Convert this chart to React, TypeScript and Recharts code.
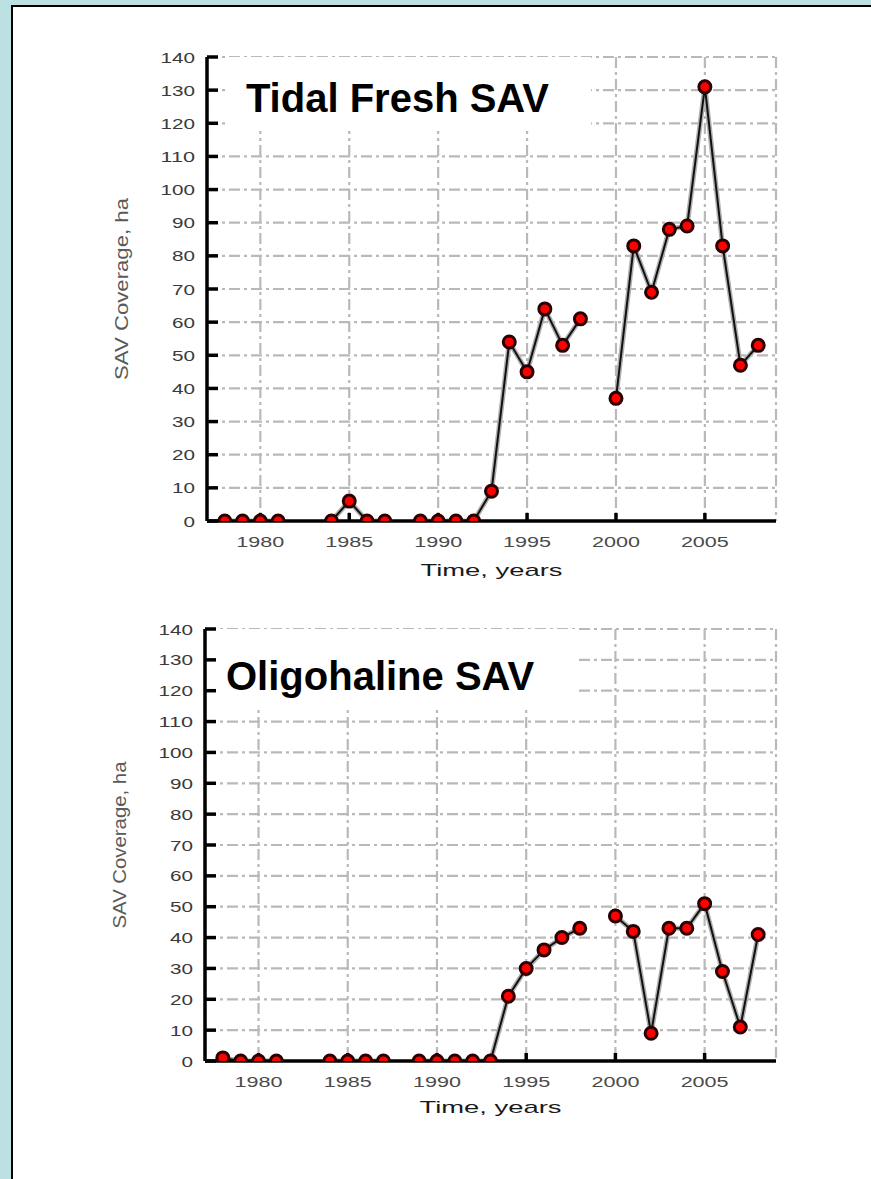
import {
  CartesianGrid,
  Label,
  Line,
  LineChart,
  ReferenceArea,
  XAxis,
  YAxis,
} from "recharts";

const years = [
  1978, 1979, 1980, 1981, 1982, 1983, 1984, 1985, 1986, 1987, 1988, 1989, 1990,
  1991, 1992, 1993, 1994, 1995, 1996, 1997, 1998, 1999, 2000, 2001, 2002, 2003,
  2004, 2005, 2006, 2007, 2008,
];

// null = no survey that year (line breaks there)
const tidalFresh = [
  0, 0, 0, 0, null, null, 0, 6, 0, 0, null, 0, 0, 0, 0, 9, 54, 45, 64, 53, 61,
  null, 37, 83, 69, 88, 89, 131, 83, 47, 53,
];

const oligohaline = [
  1, 0, 0, 0, null, null, 0, 0, 0, 0, null, 0, 0, 0, 0, 0, 21, 30, 36, 40, 43,
  null, 47, 42, 9, 43, 43, 51, 29, 11, 41,
];

const yearTicks = [1980, 1985, 1990, 1995, 2000, 2005];
const valueTicks = [0, 10, 20, 30, 40, 50, 60, 70, 80, 90, 100, 110, 120, 130, 140];

const FONT = "'Liberation Sans', Arial, sans-serif";

function ValueTick(props: any) {
  const { x, y, payload } = props;
  const s = String(payload.value);
  return (
    <text
      x={x}
      y={y}
      textAnchor="end"
      dominantBaseline="central"
      fontSize={15}
      fontFamily={FONT}
      fill="#3a3a3a"
      textLength={s.length * 11.5}
      lengthAdjust="spacingAndGlyphs"
    >
      {s}
    </text>
  );
}

function YearTick(props: any) {
  const { x, y, payload } = props;
  const s = String(payload.value);
  return (
    <text
      x={x}
      y={y}
      textAnchor="middle"
      dominantBaseline="central"
      fontSize={15}
      fontFamily={FONT}
      fill="#4a4a4a"
      textLength={s.length * 12}
      lengthAdjust="spacingAndGlyphs"
    >
      {s}
    </text>
  );
}

const EmptyTick = () => <g />;

type PanelProps = {
  values: (number | null)[];
  title: string;
  top: number;
  height: number;
  left: number;
  boxX1: number;
  boxX2: number;
  boxY2: number;
  titleDx: number;
  titleDy: number;
  xTitleDy: number;
  yTitleLen: number;
};

function CoveragePanel(p: PanelProps) {
  const data = years.map((year, i) => ({ year, value: p.values[i] }));
  const axisStroke = { stroke: "#000", strokeWidth: 3.5 };

  return (
    <div style={{ position: "absolute", left: 0, top: p.top }}>
      <LineChart
        width={871}
        height={p.height}
        data={data}
        margin={{ top: 57, right: 95, left: p.left, bottom: 39 }}
      >
        <CartesianGrid
          stroke="#b9b9b9"
          strokeWidth={2.2}
          strokeDasharray="11 4 3 4"
        />
        <XAxis
          dataKey="year"
          type="number"
          domain={[1977, 2009]}
          ticks={yearTicks}
          height={40}
          axisLine={axisStroke}
          tickLine={axisStroke}
          tickSize={-8}
          tickMargin={28}
          tick={YearTick}
          allowDataOverflow
        >
          <Label
            content={(lp: any) => {
              const vb = lp.viewBox;
              return (
                <text
                  x={vb.x + vb.width / 2}
                  y={vb.y + p.xTitleDy}
                  textAnchor="middle"
                  dominantBaseline="central"
                  fontSize={17}
                  fontFamily={FONT}
                  fill="#1a1a1a"
                  textLength={142}
                  lengthAdjust="spacingAndGlyphs"
                >
                  Time, years
                </text>
              );
            }}
          />
        </XAxis>
        <XAxis
          xAxisId="top"
          orientation="top"
          type="number"
          domain={[1977, 2009]}
          ticks={yearTicks}
          height={0}
          axisLine={axisStroke}
          tickLine={axisStroke}
          tickSize={-8}
          tick={EmptyTick}
          allowDataOverflow
        />
        <YAxis
          type="number"
          domain={[0, 140]}
          ticks={valueTicks}
          width={60}
          axisLine={axisStroke}
          tickLine={axisStroke}
          tickSize={-11}
          tickMargin={23}
          tick={ValueTick}
          interval={0}
          allowDataOverflow
        >
          <Label
            content={(lp: any) => {
              const vb = lp.viewBox;
              const cx = vb.x + vb.width - 85;
              const cy = vb.y + vb.height / 2;
              return (
                <text
                  x={cx}
                  y={cy}
                  transform={`rotate(-90 ${cx} ${cy})`}
                  textAnchor="middle"
                  dominantBaseline="central"
                  fontSize={18}
                  fontFamily={FONT}
                  fill="#5a5a5a"
                  textLength={p.yTitleLen}
                  lengthAdjust="spacingAndGlyphs"
                >
                  SAV Coverage, ha
                </text>
              );
            }}
          />
        </YAxis>
        <YAxis
          yAxisId="right"
          orientation="right"
          type="number"
          domain={[0, 140]}
          ticks={valueTicks}
          width={0}
          axisLine={axisStroke}
          tickLine={axisStroke}
          tickSize={-11}
          tick={EmptyTick}
          interval={0}
          allowDataOverflow
        />
        <ReferenceArea
          x1={p.boxX1}
          x2={p.boxX2}
          y1={p.boxY2}
          y2={140}
          fill="#fff"
          fillOpacity={1}
          stroke="none"
          label={(lp: any) => {
            const vb = lp.viewBox;
            return (
              <text
                x={vb.x + p.titleDx}
                y={vb.y + p.titleDy}
                fontSize={40}
                fontWeight="bold"
                fontFamily={FONT}
                fill="#000"
              >
                {p.title}
              </text>
            );
          }}
        />
        <Line
          dataKey="value"
          stroke="#b0b0b0"
          strokeWidth={5}
          dot={false}
          activeDot={false}
          isAnimationActive={false}
        />
        <Line
          dataKey="value"
          stroke="#111"
          strokeWidth={2}
          dot={{ r: 6, fill: "#ff0000", stroke: "#2b0000", strokeWidth: 3 }}
          activeDot={false}
          isAnimationActive={false}
        />
      </LineChart>
    </div>
  );
}

export default function App() {
  return (
    <div
      style={{
        position: "absolute",
        left: 0,
        top: 0,
        width: 871,
        height: 1179,
        background: "#bde0e3",
        overflow: "hidden",
      }}
    >
      <div
        style={{
          position: "absolute",
          left: 11,
          top: 5,
          right: 0,
          bottom: 0,
          background: "#fff",
          borderLeft: "2px solid #000",
          borderTop: "2px solid #000",
        }}
      />
      <CoveragePanel
        values={tidalFresh}
        title="Tidal Fresh SAV"
        top={0}
        height={600}
        left={147}
        boxX1={1978.12}
        boxX2={1998.6}
        boxY2={117.7}
        titleDx={19}
        titleDy={55}
        xTitleDy={49}
        yTitleLen={182}
      />
      <CoveragePanel
        values={oligohaline}
        title="Oligohaline SAV"
        top={572}
        height={568}
        left={145}
        boxX1={1977}
        boxX2={1997.9}
        boxY2={114.5}
        titleDx={21}
        titleDy={61}
        xTitleDy={46}
        yTitleLen={167}
      />
    </div>
  );
}
